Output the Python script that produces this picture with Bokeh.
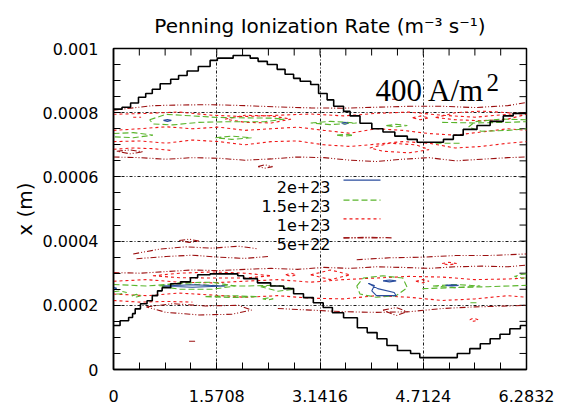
import numpy as np
from bokeh.plotting import figure
from bokeh.models import Range1d, FixedTicker, Label
from bokeh.core.properties import value
from bokeh.embed import file_html
from bokeh.resources import INLINE

# ---------------- data ----------------
title_text = "Penning Ionization Rate (m\u207b\u00b3 s\u207b\u00b9)"
y_label = "x (m)"
x_tick_vals = [0, np.pi / 2, np.pi, 3 * np.pi / 2, 2 * np.pi]
x_tick_labels = ["0", "1.5708", "3.1416", "4.7124", "6.2832"]
y_tick_vals = [0.0, 0.0002, 0.0004, 0.0006, 0.0008, 0.001]
y_tick_labels = ["0", "0.0002", "0.0004", "0.0006", "0.0008", "0.001"]

level_labels = ["2e+23", "1.5e+23", "1e+23", "5e+22"]

# sheath edges (x in rad, y in 1e-4 m)
sheath_top_x = [0, 0.13, 0.26, 0.38, 0.49, 0.59, 0.71, 0.87, 0.99, 1.12, 1.29, 1.47, 1.58, 1.82,
                2.08, 2.2, 2.34, 2.49, 2.61, 2.74, 2.84, 3.0, 3.12, 3.25, 3.35, 3.5, 3.6, 3.75,
                3.93, 4.1, 4.28, 4.47, 4.62, 5.02, 5.17, 5.32, 5.53, 5.73, 5.93, 6.08, 6.2832]
sheath_top_y = [8.11, 8.17, 8.3, 8.48, 8.6, 8.73, 8.9, 9.04, 9.16, 9.3, 9.44, 9.63, 9.7, 9.78,
                9.7, 9.6, 9.5, 9.35, 9.2, 9.07, 8.98, 8.88, 8.6, 8.4, 8.2, 8.04, 7.9, 7.67,
                7.5, 7.4, 7.27, 7.17, 7.08, 7.17, 7.3, 7.48, 7.6, 7.73, 7.9, 7.98, 8.0]
sheath_bot_x = [0, 0.1, 0.23, 0.29, 0.33, 0.41, 0.51, 0.59, 0.67, 0.74, 0.87, 1.02, 1.17, 1.28,
                1.47, 1.89, 1.98, 2.19, 2.39, 2.59, 2.74, 2.89, 3.04, 3.19, 3.33, 3.5, 3.71,
                3.86, 4.01, 4.16, 4.32, 4.52, 4.66, 5.23, 5.42, 5.58, 5.73, 5.88, 6.03, 6.19, 6.2832]
sheath_bot_y = [1.37, 1.52, 1.62, 1.74, 1.89, 2.05, 2.14, 2.3, 2.45, 2.55, 2.67, 2.73, 2.86, 2.95,
                2.98, 2.92, 2.83, 2.7, 2.6, 2.52, 2.36, 2.24, 2.08, 1.93, 1.77, 1.61, 1.3,
                1.15, 0.96, 0.75, 0.59, 0.5, 0.37, 0.5, 0.65, 0.8, 0.96, 1.1, 1.27, 1.37, 1.37]

# contour lines (x in rad, y in 1e-4 m)
c2e23_x = [
    [0.76, 0.82, 0.88, 0.82, 0.76],
    [3.47, 3.52, 3.57, 3.52, 3.47],
    [0.75, 1.2, 1.7, 1.2, 0.75],
    [3.88, 3.97, 3.93, 4.0, 4.3, 4.27, 4.02, 3.88],
    [4.1, 4.2, 4.3, 4.2, 4.1],
    [5.05, 5.15, 5.25, 5.15, 5.05],
    [0.0, 0.05, 0.0],
]
c2e23_y = [
    [7.76, 7.79, 7.76, 7.73, 7.76],
    [7.67, 7.7, 7.67, 7.64, 7.67],
    [2.6, 2.64, 2.6, 2.56, 2.6],
    [2.68, 2.62, 2.45, 2.3, 2.3, 2.4, 2.52, 2.68],
    [2.76, 2.79, 2.76, 2.73, 2.76],
    [2.62, 2.64, 2.62, 2.6, 2.62],
    [2.5, 2.53, 2.56],
]

c15e23_x = [
    [0.55, 0.8, 1.2, 1.6, 2.0, 2.4, 2.6, 2.3, 1.8, 1.3, 0.9, 0.6, 0.55],
    [0.0, 0.3, 0.6, 0.3, 0.0],
    [1.55, 1.8, 2.1, 1.8, 1.55],
    [6.2832, 5.9, 5.5, 5.4, 5.6, 6.0, 6.2832],
    [5.0, 5.5, 6.0, 6.2832],
    [3.0, 3.3, 3.7, 3.3, 3.0],
    [4.15, 4.3, 4.47, 4.3, 4.15],
    [3.4, 3.52, 3.65, 3.52, 3.4],
    [4.9, 5.3],
    [0.0, 0.5, 1.0, 1.5, 2.0, 2.4],
    [0.7, 1.0, 1.5, 1.85, 1.5, 1.0, 0.7],
    [0.28, 0.35, 0.42, 0.35, 0.28],
    [1.4, 1.8, 2.2, 1.8, 1.4],
    [2.24, 2.5, 2.75, 2.5, 2.24],
    [2.27, 2.35, 2.43, 2.35, 2.27],
    [3.7, 3.8, 4.1, 4.4, 4.47, 4.3, 4.0, 3.75, 3.7],
    [4.86, 5.2, 5.58, 5.2, 4.86],
    [4.7, 5.2, 5.7, 6.2832],
    [6.2832, 6.2, 6.1, 6.2, 6.2832],
    [0.0, 0.1, 0.2, 0.1, 0.0],
    [5.43, 5.53],
]
c15e23_y = [
    [7.78, 7.95, 7.9, 7.85, 7.84, 7.83, 7.8, 7.72, 7.72, 7.7, 7.62, 7.65, 7.78],
    [7.35, 7.38, 7.3, 7.22, 7.25],
    [7.22, 7.27, 7.22, 7.17, 7.22],
    [7.78, 7.8, 7.72, 7.55, 7.42, 7.45, 7.5],
    [7.7, 7.68, 7.7, 7.72],
    [7.68, 7.73, 7.68, 7.63, 7.68],
    [7.6, 7.64, 7.6, 7.56, 7.6],
    [7.3, 7.33, 7.3, 7.27, 7.3],
    [7.05, 7.05],
    [2.65, 2.6, 2.68, 2.62, 2.6, 2.62],
    [2.6, 2.7, 2.72, 2.6, 2.5, 2.5, 2.6],
    [2.3, 2.34, 2.3, 2.26, 2.3],
    [2.27, 2.3, 2.27, 2.24, 2.27],
    [2.58, 2.62, 2.5, 2.44, 2.58],
    [2.2, 2.23, 2.2, 2.17, 2.2],
    [2.6, 2.85, 2.92, 2.85, 2.55, 2.3, 2.25, 2.35, 2.6],
    [2.6, 2.65, 2.6, 2.55, 2.6],
    [2.52, 2.55, 2.58, 2.62],
    [2.98, 2.96, 2.9, 2.86, 2.85],
    [2.42, 2.45, 2.4, 2.35, 2.35],
    [2.08, 2.08],
]

grid_a = [0, 0.5, 1.0, 1.5, 2.0, 2.5, 3.0, 3.5, 4.0, 4.5, 5.0, 5.5, 6.0, 6.2832]
grid_b = [0, 0.4, 0.8, 1.2, 1.6, 2.0, 2.4, 2.8, 3.2, 3.6, 4.0, 4.4, 4.8, 5.2, 5.6, 6.0, 6.2832]

c1e23_x = [
    grid_a, grid_b, grid_b,
    [0, 0.3, 0.6, 0.9],
    [1.7, 2.0, 2.4, 2.7, 2.4, 2.0, 1.7],
    [3.9, 4.2, 4.6, 4.8, 4.5, 4.1, 3.9],
    [4.55, 4.67, 4.8, 4.67, 4.55],
    [4.9, 5.2, 5.6, 6.0, 6.2832, 6.0, 5.6, 5.2, 4.9],
    [0.6, 1.0, 1.5, 2.0, 2.4, 2.0, 1.5, 1.0, 0.6],
    grid_a, grid_a,
    [0, 0.4, 0.8, 1.2],
    [4.6, 4.7, 4.8, 4.7, 4.6],
    [5.0, 5.1, 5.22, 5.1, 5.0],
    [5.42, 5.48, 5.55, 5.48, 5.42],
    [2.62, 2.7, 2.78, 2.7, 2.62],
    [3.0, 3.3, 3.6, 3.3, 3.0],
    [0.3, 0.42],
]
c1e23_y = [
    [7.95, 7.98, 8.02, 7.92, 7.88, 7.92, 7.96, 7.9, 7.98, 8.02, 7.92, 7.86, 7.95, 8.0],
    [7.45, 7.5, 7.56, 7.5, 7.55, 7.45, 7.5, 7.55, 7.45, 7.36, 7.5, 7.45, 7.35, 7.3, 7.4, 7.5, 7.45],
    [7.1, 7.12, 7.05, 7.15, 7.1, 7.0, 7.1, 7.12, 7.0, 6.95, 7.02, 7.1, 7.05, 6.9, 6.95, 7.05, 7.1],
    [6.86, 6.9, 6.88, 6.82],
    [7.8, 7.92, 7.9, 7.8, 7.68, 7.7, 7.8],
    [6.9, 7.05, 7.0, 6.85, 6.75, 6.8, 6.9],
    [7.84, 7.9, 7.84, 7.78, 7.84],
    [7.85, 8.0, 8.05, 8.0, 7.95, 7.8, 7.75, 7.78, 7.85],
    [2.92, 3.0, 3.04, 3.0, 2.92, 2.85, 2.85, 2.86, 2.92],
    [2.75, 2.8, 2.72, 2.7, 2.75, 2.8, 2.72, 2.8, 2.85, 2.9, 2.88, 2.8, 2.82, 2.85],
    [2.35, 2.3, 2.38, 2.32, 2.25, 2.3, 2.22, 2.2, 2.3, 2.25, 2.15, 2.2, 2.3, 2.25],
    [2.15, 2.1, 2.12, 2.1],
    [2.75, 2.8, 2.75, 2.7, 2.75],
    [3.3, 3.34, 3.3, 3.26, 3.3],
    [1.55, 1.6, 1.55, 1.5, 1.55],
    [2.95, 3.0, 2.95, 2.9, 2.95],
    [2.95, 3.1, 2.95, 2.8, 2.95],
    [7.86, 7.86],
]

c5e22_x = [
    [0, 0.3, 0.6, 1.0, 1.5, 2.0, 2.5, 3.0, 3.5, 4.0, 4.5, 5.0, 5.5, 6.0, 6.2832],
    grid_b,
    [0.05, 0.25, 0.45, 0.25, 0.05],
    [2.2, 2.3, 2.42, 2.3, 2.2],
    [0.3, 0.7, 1.1, 1.5, 1.9, 2.2],
    [0.35, 0.8, 1.2, 1.6, 2.0, 2.35],
    [1.0, 1.15, 1.3, 1.15, 1.0],
    grid_b,
    [3.7, 4.2, 4.7, 5.2, 5.7, 6.2832],
    [3.5, 3.9, 4.26],
    [2.5, 3.0, 3.5, 4.0, 4.5, 5.0, 5.5, 6.0, 6.2832],
    [0.5, 0.9, 1.4, 1.9, 2.1, 1.8, 1.3, 0.8, 0.5],
    [1.15, 1.25],
    [4.1, 4.3, 4.47, 4.3, 4.1],
    [4.24, 4.32],
]
c5e22_y = [
    [8.08, 8.15, 8.22, 8.24, 8.25, 8.22, 8.18, 8.15, 8.14, 8.17, 8.2, 8.2, 8.16, 8.22, 8.32],
    [6.62, 6.6, 6.55, 6.6, 6.58, 6.52, 6.56, 6.62, 6.6, 6.52, 6.48, 6.55, 6.6, 6.5, 6.55, 6.6, 6.62],
    [6.8, 6.84, 6.78, 6.72, 6.8],
    [6.32, 6.38, 6.32, 6.27, 6.32],
    [3.6, 3.75, 3.82, 3.78, 3.84, 3.76],
    [3.45, 3.52, 3.56, 3.5, 3.46, 3.52],
    [4.02, 4.06, 4.0, 3.96, 4.02],
    [3.02, 3.0, 3.05, 3.1, 3.08, 3.12, 3.15, 3.12, 3.18, 3.15, 3.2, 3.18, 3.15, 3.2, 3.22, 3.2, 3.25],
    [3.42, 3.48, 3.5, 3.55, 3.55, 3.6],
    [4.1, 4.12, 4.1],
    [1.9, 1.85, 1.8, 1.78, 1.8, 1.9, 1.95, 1.98, 2.0],
    [1.95, 2.05, 1.98, 2.0, 1.85, 1.72, 1.7, 1.78, 1.95],
    [0.88, 0.88],
    [1.85, 1.93, 1.8, 1.68, 1.85],
    [8.42, 8.42],
]

# ---------------- styling / layout ----------------
W, H = 567, 407
FL, FR, FT, FB = 113, 526, 47, 369  # frame edges in px
SANS = "DejaVu Sans"
SCALE = 1e-4
XMAX, YMAX = 2 * np.pi, 0.001


def X(px):
    return (px - FL) / (FR - FL) * XMAX


def Y(py):
    return (FB - py) / (FB - FT) * YMAX


def to_m(lines):
    return [[v * SCALE for v in line] for line in lines]


p = figure(width=W, height=H, output_backend="svg", toolbar_location=None,
           x_range=Range1d(0, XMAX), y_range=Range1d(0, YMAX),
           min_border_left=FL, min_border_right=W - FR,
           min_border_top=FT, min_border_bottom=H - FB)
p.background_fill_color = "white"
p.border_fill_color = "white"
p.outline_line_color = "black"
p.outline_line_width = 1.5

p.title.text = title_text
p.title.align = "center"
p.title.text_font = SANS
p.title.text_font_size = "20px"
p.title.text_font_style = "normal"
p.title.text_color = "black"
p.title.standoff = 22

x_minor = [i * np.pi / 8 for i in range(17)]
y_minor = [i * 0.00005 for i in range(21)]
xticker = FixedTicker(ticks=x_tick_vals, minor_ticks=x_minor)
yticker = FixedTicker(ticks=y_tick_vals, minor_ticks=y_minor)

for ax in (p.xaxis[0], p.yaxis[0]):
    ax.axis_line_width = 1.5
    ax.axis_line_color = "black"
    ax.major_tick_in = 7
    ax.major_tick_out = 0
    ax.minor_tick_in = 7
    ax.minor_tick_out = 0
    ax.major_tick_line_color = "black"
    ax.minor_tick_line_color = "black"
    ax.major_label_text_font = SANS
    ax.major_label_text_font_size = "16px"
    ax.major_label_text_color = "black"

xa = p.xaxis[0]
xa.ticker = xticker
xa.major_label_overrides = {v: s for v, s in zip(x_tick_vals, x_tick_labels)}
xa.major_label_standoff = 20

ya = p.yaxis[0]
ya.ticker = yticker
ya.major_label_overrides = {v: s for v, s in zip(y_tick_vals, y_tick_labels)}
ya.major_label_standoff = 15
ya.axis_label = y_label
ya.axis_label_text_font = SANS
ya.axis_label_text_font_size = "20px"
ya.axis_label_text_font_style = "normal"
ya.axis_label_text_color = "black"
ya.axis_label_standoff = 3

# mirrored ticks on top and right edges (inward, 7 px)
p.ray(x=x_minor, y=[YMAX] * len(x_minor), length=7, length_units="screen",
      angle=-np.pi / 2, line_color="black", line_width=1)
p.ray(x=[XMAX] * len(y_minor), y=y_minor, length=7, length_units="screen",
      angle=np.pi, line_color="black", line_width=1)

for g, t in ((p.xgrid[0], xticker), (p.ygrid[0], yticker)):
    g.ticker = t
    g.grid_line_color = "black"
    g.grid_line_dash = "3 2 1 2"
    g.grid_line_width = 1
    g.grid_line_alpha = 0.9

colors = ["#2a4d9e", "#5ab52c", "#f01818", "#9b1010"]
dashes = ["solid", "6 3", "3 3", "6 2 1 2 1 2"]
level_xs = [c2e23_x, c15e23_x, c1e23_x, c5e22_x]
level_ys = [c2e23_y, c15e23_y, c1e23_y, c5e22_y]

# contours, drawn from lowest level up
for i in [3, 2, 1, 0]:
    p.multi_line(xs=level_xs[i], ys=to_m(level_ys[i]), line_color=colors[i],
                 line_dash=dashes[i], line_width=1.1)

# sheath edges
p.step(x=sheath_top_x, y=[v * SCALE for v in sheath_top_y], mode="after",
       line_color="black", line_width=1.6)
p.step(x=sheath_bot_x, y=[v * SCALE for v in sheath_bot_y], mode="after",
       line_color="black", line_width=1.6)

# legend (text right, sample line to its right)
rows_py = [186, 205, 224, 243]
line_py = [179, 199, 218, 237]
p.text(x=[X(330)] * 4, y=[Y(v) for v in rows_py], text=level_labels,
       text_font=value(SANS), text_font_size=value("16px"), text_color="black",
       text_align="right", text_baseline="alphabetic")
for i in range(4):
    p.segment(x0=[X(343)], y0=[Y(line_py[i])], x1=[X(380)], y1=[Y(line_py[i])],
              line_color=colors[i], line_dash=dashes[i], line_width=1.3)

p.add_layout(Label(x=X(375), y=Y(89), text="400 A/m", text_font="Liberation Serif",
                   text_font_size="31px", text_color="black", text_baseline="alphabetic"))
p.add_layout(Label(x=X(486), y=Y(81), text="2", text_font="Liberation Serif",
                   text_font_size="25px", text_color="black", text_baseline="alphabetic"))

open("out.html", "w").write(file_html(p, INLINE))
